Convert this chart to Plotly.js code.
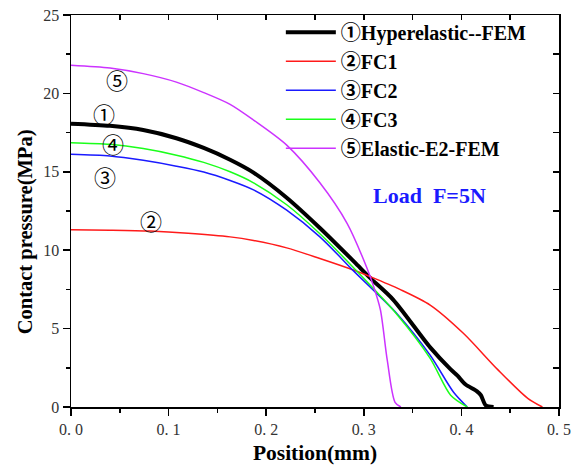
<!DOCTYPE html>
<html>
<head>
<meta charset="utf-8">
<script src="https://cdn.plot.ly/plotly-3.0.1.min.js"></script>
<style>html,body{margin:0;padding:0;background:#fff;}</style>
</head>
<body>
<div id="chart" style="width:581px;height:465px;"></div>
<script>
// Series data (Position in mm, Contact pressure in MPa)
var hyperX = [0, 0.04, 0.074, 0.108, 0.136, 0.163, 0.187, 0.221, 0.255, 0.29, 0.307, 0.33, 0.368, 0.389, 0.396, 0.404, 0.416, 0.42, 0.425, 0.433];
var hyperY = [18.07, 17.93, 17.66, 17.14, 16.52, 15.77, 14.95, 13.35, 11.42, 9.27, 8.2, 6.85, 3.8, 2.4, 2.0, 1.45, 1.0, 0.75, 0.1, 0];

var fc1X = [0, 0.04, 0.081, 0.12, 0.163, 0.187, 0.221, 0.255, 0.29, 0.307, 0.337, 0.368, 0.402, 0.437, 0.468, 0.483];
var fc1Y = [11.31, 11.28, 11.22, 11.08, 10.85, 10.62, 10.15, 9.47, 8.72, 8.3, 7.5, 6.5, 4.7, 2.4, 0.55, 0];

var fc2X = [0, 0.04, 0.074, 0.108, 0.136, 0.163, 0.187, 0.221, 0.255, 0.29, 0.334, 0.368, 0.392, 0.406];
var fc2Y = [16.12, 16.01, 15.73, 15.36, 14.99, 14.45, 13.85, 12.55, 10.85, 8.65, 5.95, 3.3, 0.94, 0];

var fc3X = [0, 0.04, 0.074, 0.108, 0.136, 0.163, 0.187, 0.221, 0.255, 0.29, 0.334, 0.368, 0.389, 0.406];
var fc3Y = [16.86, 16.75, 16.48, 16.06, 15.6, 15.0, 14.3, 12.9, 11.05, 8.85, 5.9, 3.1, 0.75, 0];

var elasticX = [0, 0.04, 0.074, 0.108, 0.136, 0.163, 0.187, 0.221, 0.255, 0.283, 0.303, 0.31, 0.317, 0.324, 0.332, 0.338];
var elasticY = [21.8, 21.62, 21.26, 20.72, 20.05, 19.3, 18.3, 16.7, 14.3, 11.7, 8.9, 7.7, 6.2, 3.0, 0.3, 0];

var seriesNames = ["①Hyperelastic--FEM", "②FC1", "③FC2", "④FC3", "⑤Elastic-E2-FEM"];
var xTickVals = [0, 0.1, 0.2, 0.3, 0.4, 0.5];
var xTickText = ["0. 0", "0. 1", "0. 2", "0. 3", "0. 4", "0. 5"];
var yTickVals = [0, 5, 10, 15, 20, 25];

var labelText = ["⑤", "①", "④", "③", "②"];
var labelX = [0.047, 0.034, 0.043, 0.035, 0.082];
var labelY = [20.9, 18.75, 16.85, 14.75, 11.9];

var serif = "Liberation Serif, Times New Roman, Noto Sans CJK SC, serif";

function line(x, y, name, color, width) {
  return {x: x, y: y, name: name, type: 'scatter', mode: 'lines',
          line: {color: color, width: width, shape: 'spline', smoothing: 0.8},
          hoverinfo: 'skip'};
}

var data = [
  line(hyperX, hyperY, seriesNames[0], '#000000', 4),
  line(fc1X, fc1Y, seriesNames[1], '#ff1a1a', 1.5),
  line(fc2X, fc2Y, seriesNames[2], '#1a1aff', 1.5),
  line(fc3X, fc3Y, seriesNames[3], '#1aff1a', 1.5),
  line(elasticX, elasticY, seriesNames[4], '#cc33ff', 1.5),
  {x: [], y: [], xaxis: 'x2', yaxis: 'y2', type: 'scatter', mode: 'lines', showlegend: false, hoverinfo: 'skip'}
];

var annotations = labelText.map(function (t, i) {
  return {x: labelX[i], y: labelY[i], xref: 'x', yref: 'y', text: t, showarrow: false,
          font: {family: "Noto Sans CJK SC, DejaVu Sans", size: 22, color: '#000'}};
});
annotations.push({x: 0.367, y: 13.5, xref: 'x', yref: 'y', text: '<b>Load  F=5N</b>', showarrow: false,
  font: {family: serif, size: 22, color: '#1a1aff'}});
annotations.push({x: -0.094, y: 0.446, xref: 'paper', yref: 'paper', xanchor: 'center', yanchor: 'middle',
  text: '<b>Contact pressure(MPa)</b>', textangle: -90, showarrow: false,
  font: {family: serif, size: 20.5, color: '#000'}});

var layout = {
  width: 581, height: 465,
  margin: {l: 71, r: 22, t: 15, b: 58},
  paper_bgcolor: '#ffffff', plot_bgcolor: '#ffffff',
  showlegend: true,
  legend: {x: 0.43, y: 1.006, xanchor: 'left', yanchor: 'top', bgcolor: 'rgba(0,0,0,0)',
           borderwidth: 0, itemwidth: 50,
           font: {family: serif, size: 20, color: '#000', weight: 'bold'}},
  xaxis: {range: [0, 0.5], tickvals: xTickVals, ticktext: xTickText, ticks: 'outside', ticklen: 7,
          tickwidth: 1.5, tickcolor: '#000', showline: true, linecolor: '#000', linewidth: 1.5,
          mirror: true, showgrid: false, zeroline: false,
          minor: {dtick: 0.05, ticks: 'outside', ticklen: 4, tickwidth: 1.5, tickcolor: '#000', showgrid: false},
          tickfont: {family: serif, size: 16, color: '#333'},
          title: {text: '<b>Position(mm)</b>', font: {family: serif, size: 21.5, color: '#000'}, standoff: 8}},
  yaxis: {range: [0, 25], tickvals: yTickVals, ticks: 'outside', ticklen: 7,
          tickwidth: 1.5, tickcolor: '#000', showline: true, linecolor: '#000', linewidth: 1.5,
          mirror: true, showgrid: false, zeroline: false,
          minor: {dtick: 2.5, ticks: 'outside', ticklen: 4, tickwidth: 1.5, tickcolor: '#000', showgrid: false},
          tickfont: {family: serif, size: 16, color: '#333'}},
  xaxis2: {overlaying: 'x', side: 'top', anchor: 'y', range: [0, 0.5], dtick: 0.05, ticks: 'inside',
           ticklen: 5, tickwidth: 1.5, tickcolor: '#000', showticklabels: false, showgrid: false,
           zeroline: false, showline: false},
  yaxis2: {overlaying: 'y', side: 'right', anchor: 'x', range: [0, 25], dtick: 2.5, ticks: 'inside',
           ticklen: 6, tickwidth: 1.5, tickcolor: '#000', showticklabels: false, showgrid: false,
           zeroline: false, showline: false},
  annotations: annotations
};

Plotly.newPlot('chart', data, layout, {displayModeBar: false, staticPlot: true});
</script>
</body>
</html>
